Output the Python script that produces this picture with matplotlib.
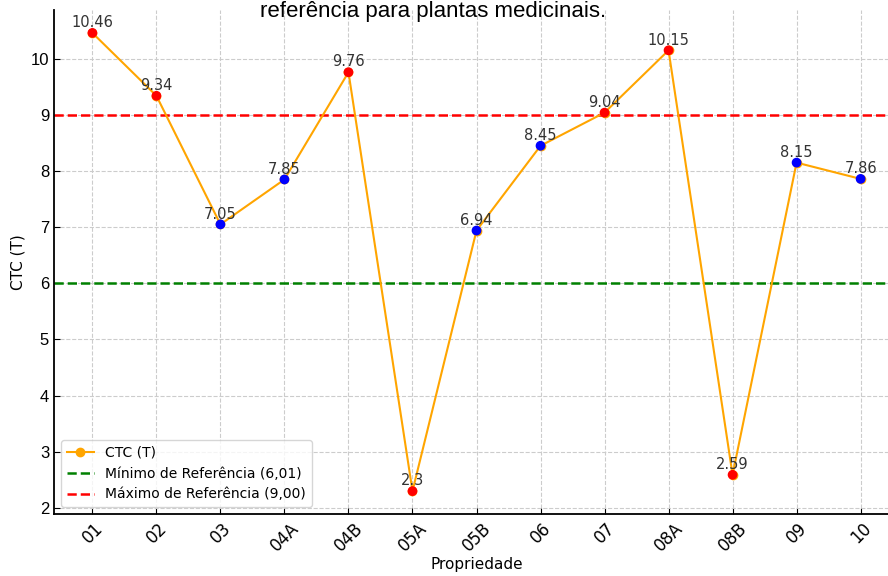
import numpy as np
import matplotlib
matplotlib.use('Agg')
from matplotlib import pyplot as plt

# dados
propriedades = ['01', '02', '03', '04A', '04B', '05A', '05B', '06', '07', '08A', '08B', '09', '10']
ctc = [10.46, 9.34, 7.05, 7.85, 9.76, 2.3, 6.94, 8.45, 9.04, 10.15, 2.59, 8.15, 7.86]
ref_min = 6.01
ref_max = 9.00

fig = plt.figure(figsize=(8.88, 5.76), dpi=100)
ax = fig.add_axes([54/888, 1 - 514/576, 845/888, 504/576])

x = np.arange(len(propriedades))
ax.plot(x, ctc, color='orange', marker='o', markersize=6, linewidth=1.5, label='CTC (T)', zorder=3)
cores = ['blue' if ref_min <= v <= ref_max else 'red' for v in ctc]
ax.scatter(x, ctc, c=cores, s=36, zorder=4)

ax.axhline(ref_min, color='green', linestyle='--', linewidth=1.8, label='Mínimo de Referência (6,01)')
ax.axhline(ref_max, color='red', linestyle='--', linewidth=1.8, label='Máximo de Referência (9,00)')

for xi, v in zip(x, ctc):
    ax.annotate(f'{v:g}', (xi, v), xytext=(0, 2), textcoords='offset points',
                ha='center', va='bottom', fontsize=10.5, color='#333333')

ax.set_xticks(x)
ax.set_xticklabels(propriedades, rotation=45, fontsize=12)
ax.set_yticks(range(2, 11))
ax.tick_params(axis='y', labelsize=12)
ax.tick_params(direction='in', length=4)
for lab in ax.get_yticklabels():
    lab.set_family('Liberation Sans')
ax.set_xlabel('Propriedade', fontsize=11, labelpad=2)
ax.set_ylabel('CTC (T)', fontsize=11)
ax.grid(True, linestyle='--', color='#cccccc', linewidth=0.8)
ax.spines['top'].set_visible(False)
ax.spines['right'].set_visible(False)
ax.spines['left'].set_linewidth(1.3)
ax.spines['bottom'].set_linewidth(1.3)
ax.legend(loc='lower left', fontsize=10)

fig.text(0.488, 0.999, 'referência para plantas medicinais.', ha='center', va='top',
         fontsize=16, family='Liberation Sans')

fig.savefig('out.png', dpi=100)
